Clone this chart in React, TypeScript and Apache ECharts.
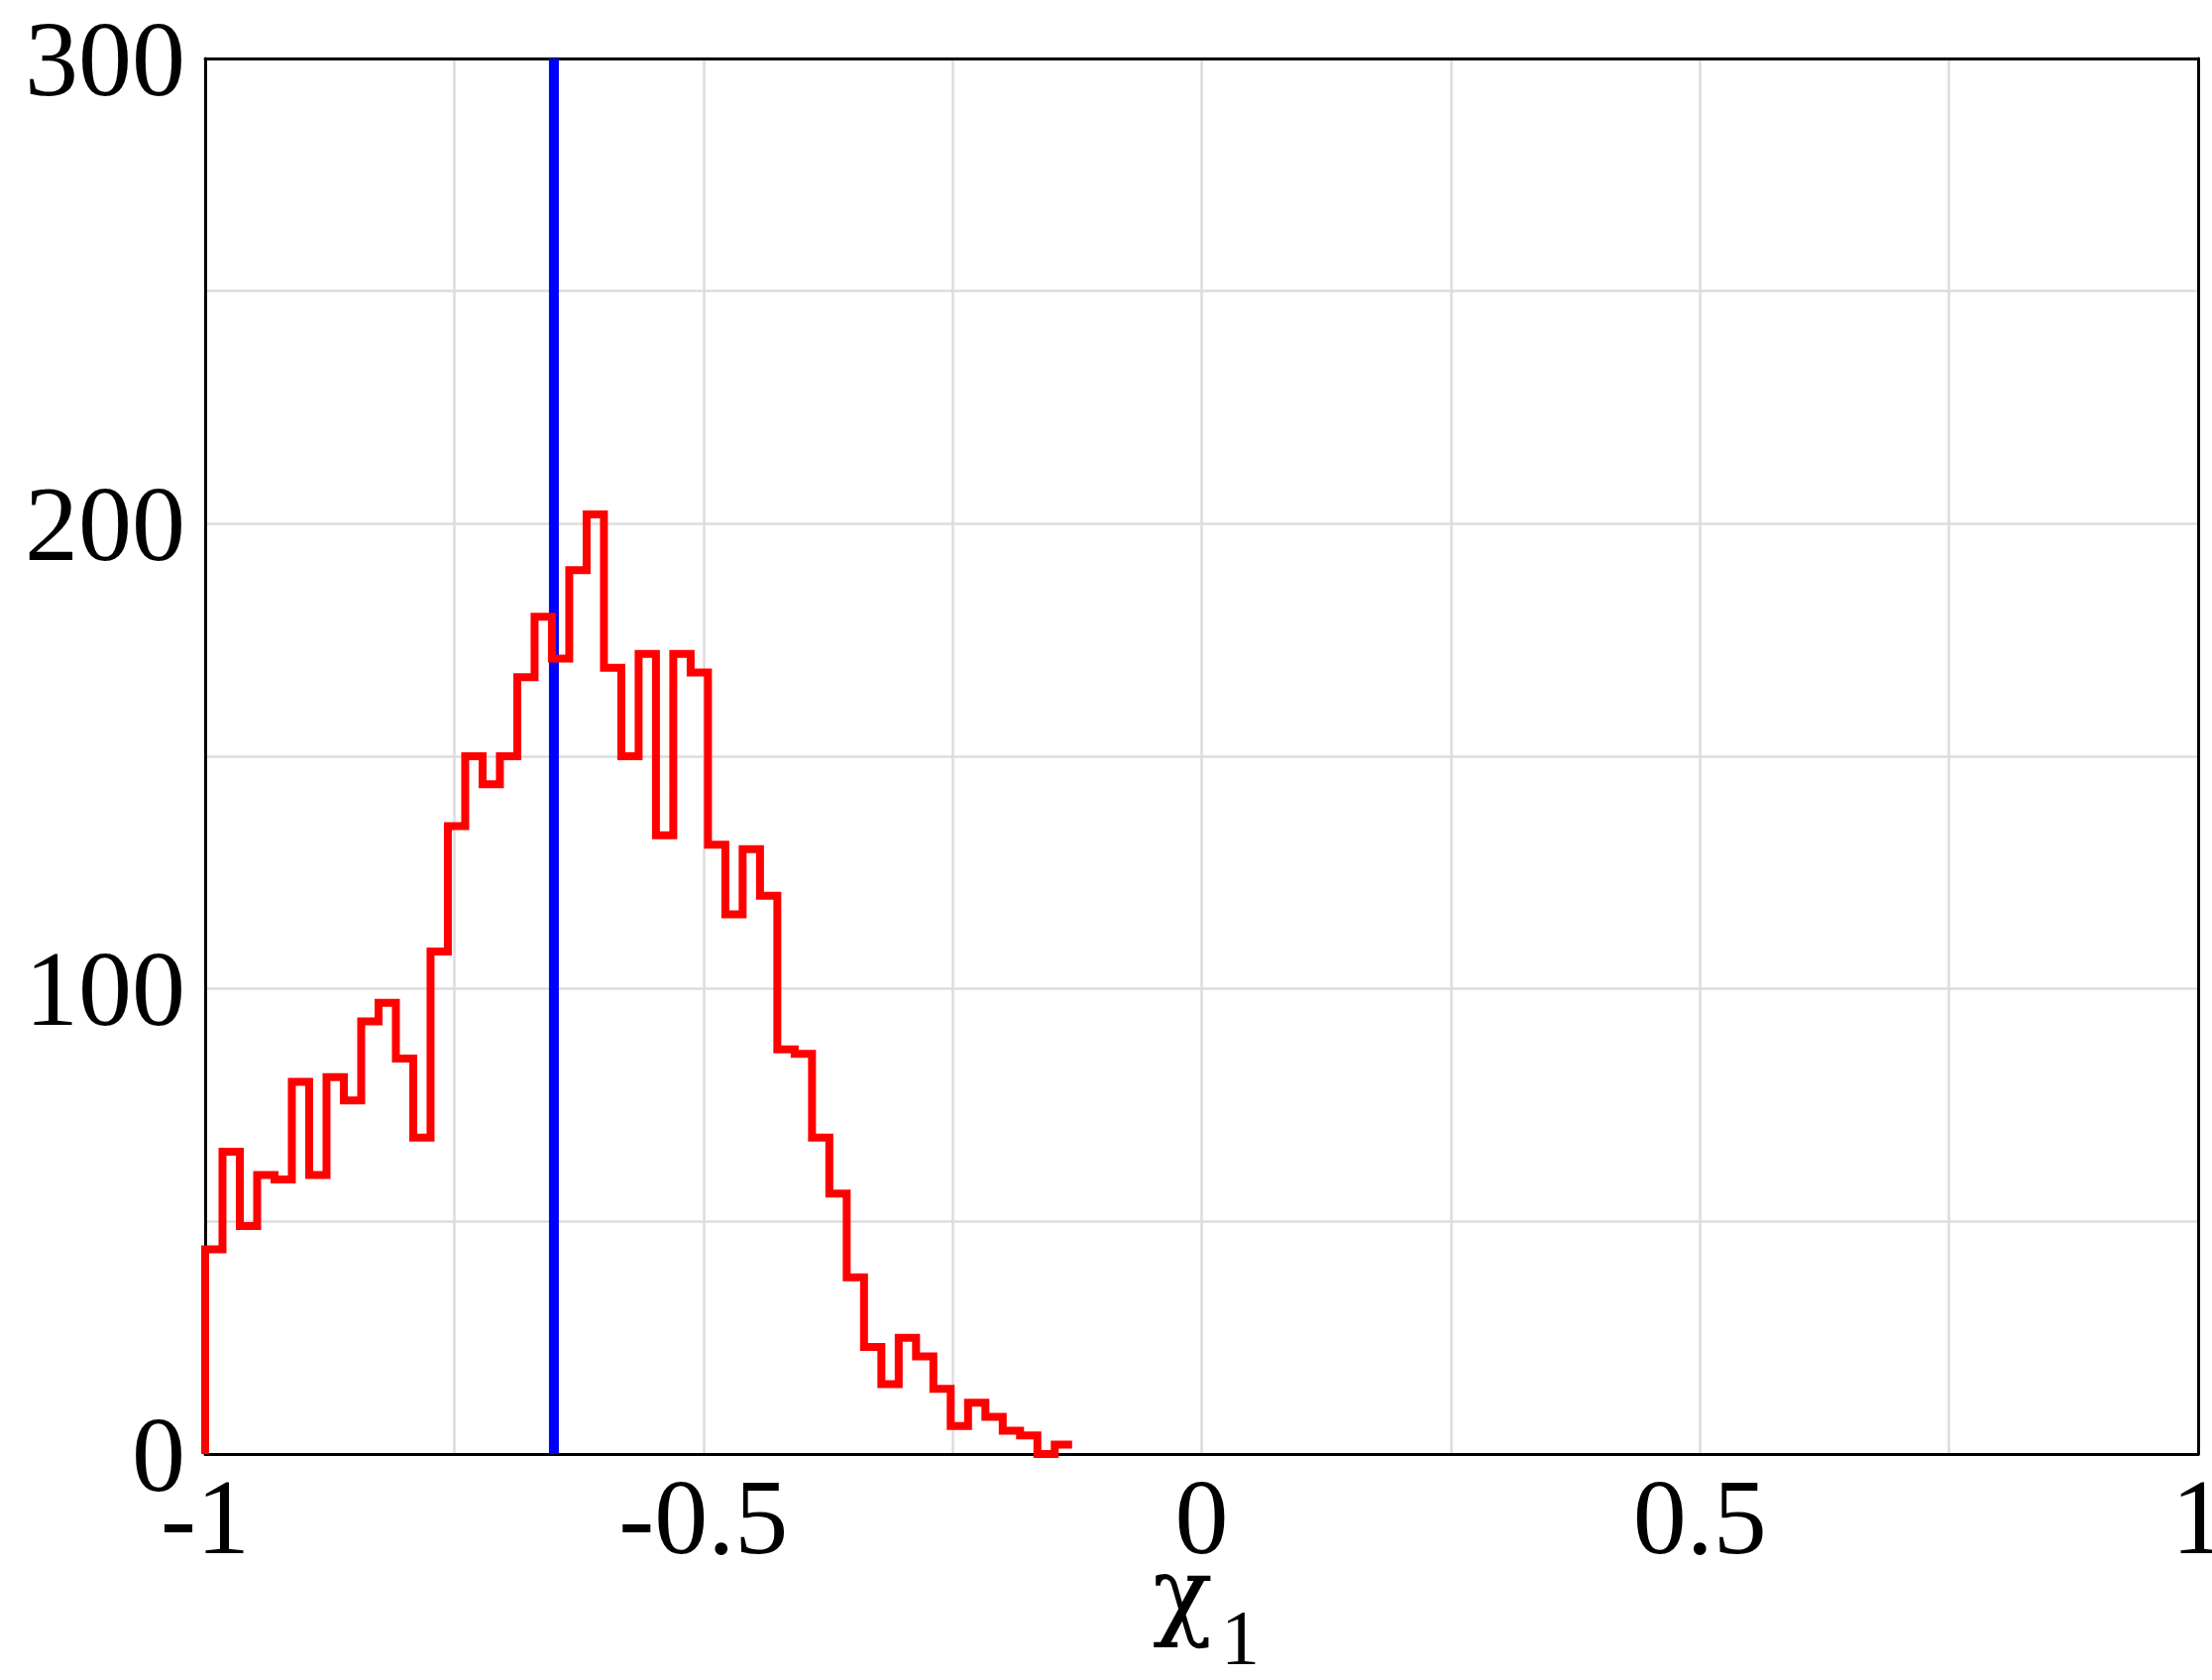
import React, { useEffect, useRef } from "react";
import * as echarts from "echarts";

// Histogram of chi_1 (bin counts)
const binStart = -1;
const binWidth = 0.0174;
const counts = [
  44, 65, 49, 60, 59, 80, 60, 81, 76, 93, 97, 85, 68, 108, 135, 150, 144, 150, 167, 180,
  171, 190, 202, 169, 150, 172, 133, 172, 168, 131, 116, 130, 120, 87, 86, 68, 56, 38, 23, 15,
  25, 21, 14, 6, 11, 8, 5, 4, 0, 2,
];
const markerX = [-0.65];
const yLabelValues = [0, 100, 200, 300];
const xLabelValues = [-1, -0.5, 0, 0.5, 1];

const FONT = "Liberation Serif";

export default function App() {
  const ref = useRef<HTMLDivElement>(null);
  useEffect(() => {
    document.body.style.margin = "0";
    const chart = echarts.init(ref.current!, null, { renderer: "svg" });
    const stepData: number[][] = [[binStart, 0]];
    counts.forEach((c, i) => stepData.push([binStart + i * binWidth, c]));
    stepData.push([binStart + counts.length * binWidth, counts[counts.length - 1]]);

    const border = { show: true, onZero: false, lineStyle: { color: "#000", width: 3 } };
    const grid = { lineStyle: { color: "#dddddd", width: 2.5 } };

    chart.setOption({
      animation: false,
      backgroundColor: "#ffffff",
      grid: {
        left: 207,
        top: 59,
        right: 14,
        bottom: 228,
        outerBoundsMode: "none",
        containLabel: false,
      },
      xAxis: [
        {
          type: "value",
          min: -1,
          max: 1,
          interval: 0.25,
          axisLine: border,
          axisTick: { show: false },
          splitLine: { show: true, ...grid },
          axisLabel: {
            margin: 9,
            fontFamily: FONT,
            fontSize: 108,
            color: "#000",
            formatter: (v: number) =>
              xLabelValues.some((t) => Math.abs(t - v) < 1e-9) ? String(v) : "",
          },
        },
        {
          type: "value",
          position: "top",
          min: -1,
          max: 1,
          interval: 0.25,
          axisLine: border,
          axisTick: { show: false },
          axisLabel: { show: false },
          splitLine: { show: false },
        },
      ],
      yAxis: [
        {
          type: "value",
          min: 0,
          max: 300,
          interval: 50,
          axisLine: border,
          axisTick: { show: false },
          splitLine: { show: true, ...grid },
          axisLabel: {
            margin: 20,
            fontFamily: FONT,
            fontSize: 108,
            color: "#000",
            formatter: (v: number) =>
              yLabelValues.some((t) => Math.abs(t - v) < 1e-9) ? String(v) : "",
          },
        },
        {
          type: "value",
          position: "right",
          min: 0,
          max: 300,
          interval: 50,
          axisLine: border,
          axisTick: { show: false },
          axisLabel: { show: false },
          splitLine: { show: false },
        },
      ],
      graphic: [
        {
          type: "text",
          left: 1163,
          top: 1556,
          z: 10,
          style: {
            text: "χ",
            fontFamily: "DejaVu Serif",
            fontSize: 100,
            fill: "#000",
          },
        },
        {
          type: "text",
          left: 1232,
          top: 1612,
          z: 10,
          style: { text: "1", fontFamily: FONT, fontSize: 78, fill: "#000" },
        },
      ],
      series: [
        {
          type: "line",
          data: [
            [markerX[0], 0],
            [markerX[0], 300],
          ],
          symbol: "none",
          lineStyle: { color: "#0000ff", width: 10 },
          z: 2,
        },
        {
          type: "line",
          data: stepData,
          step: "end",
          symbol: "none",
          lineStyle: { color: "#ff0000", width: 8, join: "miter", cap: "butt" },
          z: 3,
        },
      ],
    });
    return () => chart.dispose();
  }, []);
  return (
    <div
      ref={ref}
      style={{ position: "absolute", left: 0, top: 0, width: 2232, height: 1695 }}
    />
  );
}
